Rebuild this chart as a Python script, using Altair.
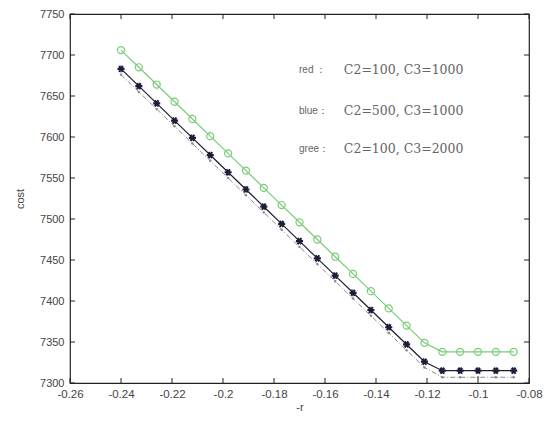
import altair as alt
import pandas as pd

r_vals = [-0.240, -0.233, -0.226, -0.219, -0.212, -0.205, -0.198, -0.191, -0.184, -0.177,
          -0.170, -0.163, -0.156, -0.149, -0.142, -0.135, -0.128, -0.121, -0.114, -0.107,
          -0.100, -0.093, -0.086]
cost_green = [7706, 7685, 7664, 7643, 7622, 7601, 7580, 7559, 7538, 7517, 7496, 7475, 7454,
              7433, 7412, 7391, 7370, 7349, 7338, 7338, 7338, 7338, 7338]
cost_blue = [7683, 7662, 7641, 7620, 7599, 7578, 7557, 7536, 7515, 7494, 7473, 7452, 7431,
             7410, 7389, 7368, 7347, 7326, 7315, 7315, 7315, 7315, 7315]
cost_red = [7676, 7655, 7634, 7613, 7592, 7571, 7550, 7529, 7508, 7487, 7466, 7445, 7424,
            7403, 7382, 7361, 7340, 7319, 7307, 7307, 7307, 7307, 7307]

x_ticks = [-0.26, -0.24, -0.22, -0.2, -0.18, -0.16, -0.14, -0.12, -0.1, -0.08]
y_ticks = [7300, 7350, 7400, 7450, 7500, 7550, 7600, 7650, 7700, 7750]

note_prefix = ["red ：", "blue：", "gree："]
note_body = ["C2=100, C3=1000", "C2=500, C3=1000", "C2=100, C3=2000"]
prefix_x = [-0.1702, -0.1702, -0.1702]
body_x = [-0.1526, -0.1526, -0.1526]
note_y = [7682, 7632, 7585]

df = pd.DataFrame({"r": r_vals, "green": cost_green, "blue": cost_blue, "red": cost_red})
pre_df = pd.DataFrame({"t": note_prefix, "x": prefix_x, "y": note_y})
body_df = pd.DataFrame({"t": note_body, "x": body_x, "y": note_y})
xt_df = pd.DataFrame({"v": x_ticks})
yt_df = pd.DataFrame({"v": y_ticks})

W, H = 459, 369
xs = alt.Scale(domain=[-0.26, -0.08], nice=False, zero=False)
ys = alt.Scale(domain=[7300, 7750], nice=False, zero=False)

FONT = "Liberation Sans"

x_main = alt.X("r:Q", scale=xs, title="-r",
               axis=alt.Axis(values=x_ticks, tickSize=0, domain=False, grid=False,
                             labelFont=FONT, labelFontSize=11.5, labelColor="#444",
                             labelPadding=5, labelOverlap=False, labelFlush=False,
                             titleFont=FONT, titleFontSize=11,
                             titleFontWeight="normal", titleColor="#444", titlePadding=2,
                             labelExpr="replace(format(datum.value, '.2~f'), '\u2212', '-')"))
y_main = alt.Y("green:Q", scale=ys, title="cost",
               axis=alt.Axis(values=y_ticks, format="d", tickSize=0, domain=False, grid=False,
                             labelFont=FONT, labelFontSize=11, labelColor="#444",
                             labelPadding=6, labelOverlap=False, labelFlush=False,
                             titleFont=FONT, titleFontSize=11,
                             titleFontWeight="normal", titleColor="#444", titlePadding=14))

green = alt.Chart(df).mark_line(
    color="#78cc78", strokeWidth=1.2,
    point=alt.OverlayMarkDef(shape="circle", filled=False, size=50, color="#78cc78", strokeWidth=1.2)
).encode(x=x_main, y=y_main)

red = alt.Chart(df).mark_line(
    color="#8a8a8a", strokeWidth=1, strokeDash=[5, 2, 1, 2],
    point=alt.OverlayMarkDef(shape="circle", filled=True, size=6, color="#8a8a8a")
).encode(x=alt.X("r:Q", scale=xs), y=alt.Y("red:Q", scale=ys))

star = "M-1,0L1,0M-0.5,-0.87L0.5,0.87M-0.5,0.87L0.5,-0.87"
blue = alt.Chart(df).mark_line(
    color="#1e1e38", strokeWidth=1.2,
    point=alt.OverlayMarkDef(shape=star, filled=False, size=50, color="#1e1e38", strokeWidth=2.2)
).encode(x=alt.X("r:Q", scale=xs), y=alt.Y("blue:Q", scale=ys))

pre_text = alt.Chart(pre_df).mark_text(
    align="left", baseline="middle", font=FONT, fontSize=10, color="#666"
).encode(x=alt.X("x:Q", scale=xs), y=alt.Y("y:Q", scale=ys), text="t:N")
body_text = alt.Chart(body_df).mark_text(
    align="left", baseline="middle", font="DejaVu Serif", fontSize=12.5, color="#666"
).encode(x=alt.X("x:Q", scale=xs), y=alt.Y("y:Q", scale=ys), text="t:N")

tick_col = "#222"
TL = 5
bt = alt.Chart(xt_df).mark_tick(color=tick_col, thickness=1, size=TL, opacity=1, orient="vertical").encode(
    x=alt.X("v:Q", scale=xs), y=alt.value(H - TL / 2))
tt = alt.Chart(xt_df).mark_tick(color=tick_col, thickness=1, size=TL, opacity=1, orient="vertical").encode(
    x=alt.X("v:Q", scale=xs), y=alt.value(TL / 2))
lt = alt.Chart(yt_df).mark_tick(color=tick_col, thickness=1, size=TL, opacity=1, orient="horizontal").encode(
    y=alt.Y("v:Q", scale=ys), x=alt.value(TL / 2))
rt = alt.Chart(yt_df).mark_tick(color=tick_col, thickness=1, size=TL, opacity=1, orient="horizontal").encode(
    y=alt.Y("v:Q", scale=ys), x=alt.value(W - TL / 2))

chart = alt.layer(green, red, blue, pre_text, body_text, bt, tt, lt, rt).properties(
    width=W, height=H,
    autosize=alt.AutoSizeParams(type="none"),
    padding={"left": 70, "top": 14, "right": 15, "bottom": 40},
    background="white",
).configure_view(stroke="#222", strokeWidth=1.2)

chart.save("out.html", embed_options={"renderer": "svg", "actions": False})
